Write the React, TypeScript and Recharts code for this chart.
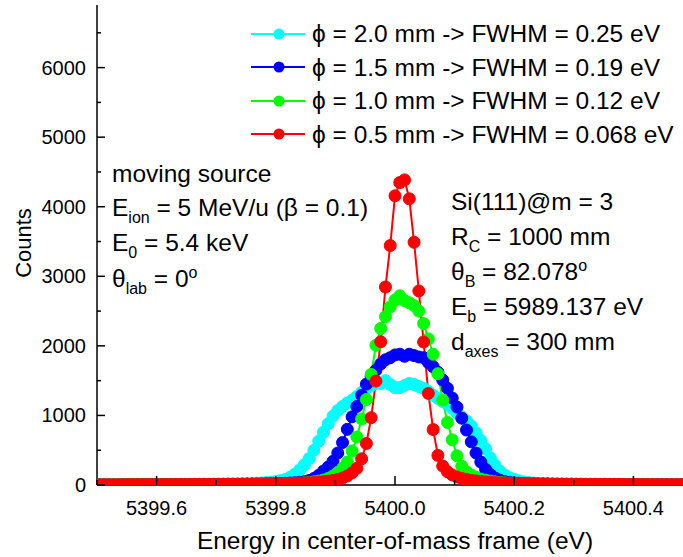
import React from "react";
import { LineChart, Line, XAxis, YAxis, Legend } from "recharts";

const FONT = "'Liberation Sans', Arial, Helvetica, sans-serif";

// energy grid (eV), 125 channels
const ENERGY = [
  5399.504, 5399.512, 5399.52, 5399.528, 5399.536, 5399.544, 5399.552, 5399.56, 5399.568, 5399.576,
  5399.584, 5399.592, 5399.6, 5399.608, 5399.616, 5399.624, 5399.632, 5399.64, 5399.648, 5399.656,
  5399.664, 5399.672, 5399.68, 5399.688, 5399.696, 5399.704, 5399.712, 5399.72, 5399.728, 5399.736,
  5399.744, 5399.752, 5399.76, 5399.768, 5399.776, 5399.784, 5399.792, 5399.8, 5399.808, 5399.816,
  5399.824, 5399.832, 5399.84, 5399.848, 5399.856, 5399.864, 5399.872, 5399.88, 5399.888, 5399.896,
  5399.904, 5399.912, 5399.92, 5399.928, 5399.936, 5399.944, 5399.952, 5399.96, 5399.968, 5399.976,
  5399.984, 5399.992, 5400.0, 5400.008, 5400.016, 5400.024, 5400.032, 5400.04, 5400.048, 5400.056,
  5400.064, 5400.072, 5400.08, 5400.088, 5400.096, 5400.104, 5400.112, 5400.12, 5400.128, 5400.136,
  5400.144, 5400.152, 5400.16, 5400.168, 5400.176, 5400.184, 5400.192, 5400.2, 5400.208, 5400.216,
  5400.224, 5400.232, 5400.24, 5400.248, 5400.256, 5400.264, 5400.272, 5400.28, 5400.288, 5400.296,
  5400.304, 5400.312, 5400.32, 5400.328, 5400.336, 5400.344, 5400.352, 5400.36, 5400.368, 5400.376,
  5400.384, 5400.392, 5400.4, 5400.408, 5400.416, 5400.424, 5400.432, 5400.44, 5400.448, 5400.456,
  5400.464, 5400.472, 5400.48, 5400.488, 5400.496,
];

// counts, slit width 2.0 mm
const PHI_20 = [
  3, 3, 3, 4, 4, 4, 4, 4, 5, 5,
  5, 5, 6, 6, 6, 7, 7, 7, 8, 8,
  9, 9, 10, 10, 11, 12, 13, 14, 15, 16,
  18, 20, 23, 26, 30, 35, 42, 50, 62, 80,
  110, 155, 215, 290, 380, 500, 630, 760, 880, 990,
  1070, 1130, 1180, 1220, 1270, 1330, 1390, 1430, 1460, 1460,
  1500, 1445, 1400, 1400, 1430, 1460, 1445, 1415, 1390, 1345,
  1290, 1245, 1200, 1160, 1100, 1040, 980, 920, 850, 750,
  640, 520, 390, 280, 200, 145, 105, 80, 60, 45,
  35, 28, 23, 20, 17, 15, 13, 12, 11, 10,
  9, 9, 8, 8, 7, 7, 7, 6, 6, 6,
  5, 5, 5, 5, 4, 4, 4, 4, 4, 3,
  3, 3, 3, 3, 3,
];

// counts, slit width 1.5 mm
const PHI_15 = [
  2, 2, 2, 2, 3, 3, 3, 3, 3, 3,
  3, 4, 4, 4, 4, 4, 5, 5, 5, 5,
  6, 6, 6, 7, 7, 8, 8, 9, 9, 10,
  11, 12, 13, 14, 15, 17, 19, 21, 23, 26,
  29, 33, 38, 48, 65, 95, 140, 200, 260, 340,
  460, 610, 800, 980, 1130, 1290, 1450, 1560, 1650, 1740,
  1800, 1830, 1870, 1880, 1850, 1880, 1860, 1840, 1830, 1760,
  1700, 1620, 1510, 1390, 1250, 1120, 960, 790, 620, 460,
  330, 225, 150, 100, 70, 50, 38, 30, 25, 21,
  18, 16, 14, 13, 12, 11, 10, 9, 9, 8,
  8, 7, 7, 6, 6, 6, 5, 5, 5, 5,
  4, 4, 4, 4, 4, 3, 3, 3, 3, 3,
  3, 3, 2, 2, 2,
];

// counts, slit width 1.0 mm
const PHI_10 = [
  3, 3, 3, 3, 3, 3, 4, 4, 4, 4,
  4, 4, 4, 5, 5, 5, 5, 5, 6, 6,
  6, 6, 7, 7, 7, 8, 8, 8, 9, 9,
  10, 10, 11, 12, 13, 14, 15, 16, 18, 20,
  22, 24, 27, 31, 37, 45, 56, 72, 95, 130,
  180, 240, 330, 490, 690, 950, 1230, 1590, 2010, 2250,
  2420, 2560, 2660, 2720, 2650, 2620, 2580, 2500, 2320, 2100,
  1880, 1600, 1220, 900, 650, 420, 270, 190, 145, 110,
  85, 70, 55, 45, 38, 32, 27, 23, 20, 18,
  16, 15, 14, 13, 12, 11, 10, 10, 9, 9,
  8, 8, 7, 7, 7, 6, 6, 6, 5, 5,
  5, 5, 5, 4, 4, 4, 4, 4, 3, 3,
  3, 3, 3, 3, 3,
];

// counts, slit width 0.5 mm
const PHI_05 = [
  5, 5, 5, 5, 5, 6, 6, 6, 6, 6,
  6, 7, 7, 7, 7, 7, 8, 8, 8, 8,
  9, 9, 9, 10, 10, 10, 11, 11, 12, 12,
  13, 13, 14, 15, 16, 17, 18, 19, 21, 22,
  24, 26, 28, 30, 33, 37, 42, 48, 56, 66,
  80, 100, 130, 175, 240, 376, 596, 968, 1494, 2059,
  2846, 3442, 4157, 4347, 4386, 4114, 3489, 2789, 2056, 1316,
  797, 425, 272, 190, 145, 115, 95, 80, 68, 58,
  50, 44, 39, 35, 32, 29, 27, 25, 23, 21,
  20, 19, 18, 17, 16, 15, 14, 14, 13, 13,
  12, 12, 11, 11, 10, 10, 10, 9, 9, 9,
  8, 8, 8, 8, 7, 7, 7, 7, 6, 6,
  6, 6, 6, 5, 5,
];

const SERIES = [
  { key: "phi20", name: "ϕ = 2.0 mm -> FWHM = 0.25 eV", color: "#00FFFF", values: PHI_20 },
  { key: "phi15", name: "ϕ = 1.5 mm -> FWHM = 0.19 eV", color: "#0000FF", values: PHI_15 },
  { key: "phi10", name: "ϕ = 1.0 mm -> FWHM = 0.12 eV", color: "#00FF00", values: PHI_10 },
  { key: "phi05", name: "ϕ = 0.5 mm -> FWHM = 0.068 eV", color: "#FF0000", values: PHI_05 },
];

const X_DOMAIN = [5399.5, 5400.5];
const X_TICKS = [5399.5, 5399.6, 5399.7, 5399.8, 5399.9, 5400.0, 5400.1, 5400.2, 5400.3, 5400.4, 5400.5];
const X_LABELS = [5399.6, 5399.8, 5400.0, 5400.2, 5400.4];
const Y_DOMAIN = [0, 6900];
const Y_TICKS = [0, 500, 1000, 1500, 2000, 2500, 3000, 3500, 4000, 4500, 5000, 5500, 6000, 6500];
const Y_LABELS = [0, 1000, 2000, 3000, 4000, 5000, 6000];

const data = ENERGY.map((energy, i) => {
  const row: Record<string, number> = { energy };
  SERIES.forEach((s) => (row[s.key] = s.values[i]));
  return row;
});

const isLabeled = (v: number) => X_LABELS.some((l) => Math.abs(l - v) < 1e-6);

function BottomTick(props: any) {
  const { x, y, payload } = props;
  const v = payload.value as number;
  const major = isLabeled(v);
  return (
    <g>
      <line x1={x} x2={x} y1={y} y2={y - (major ? 9 : 5)} stroke="#000" strokeWidth={1.5} />
      {major && (
        <text x={x} y={y + 30} textAnchor="middle" fontSize={20} fill="#000" fontFamily={FONT}>
          {v.toFixed(1)}
        </text>
      )}
    </g>
  );
}

function TopTick(props: any) {
  const { x, y, payload } = props;
  const major = isLabeled(payload.value);
  return <line x1={x} x2={x} y1={y} y2={y + (major ? 9 : 5)} stroke="#000" strokeWidth={1.5} />;
}

function LeftTick(props: any) {
  const { x, y, payload } = props;
  const v = payload.value as number;
  const major = Y_LABELS.includes(v);
  return (
    <g>
      <line x1={x} x2={x + (major ? 8 : 4)} y1={y} y2={y} stroke="#000" strokeWidth={1.5} />
      {major && (
        <text x={x - 11} y={y + 7} textAnchor="end" fontSize={20} fill="#000" fontFamily={FONT}>
          {v}
        </text>
      )}
    </g>
  );
}

function LegendBox() {
  return (
    <div style={{ fontFamily: FONT, color: "#000" }}>
      {SERIES.map((s) => (
        <div key={s.key} style={{ display: "flex", alignItems: "center", height: 33.5 }}>
          <svg width={61} height={14} style={{ display: "block" }}>
            <line x1={0} x2={54} y1={7} y2={7} stroke={s.color} strokeWidth={2} />
            <circle cx={28} cy={7} r={5.5} fill={s.color} />
          </svg>
          <span style={{ fontSize: 24.5, lineHeight: "33.5px", whiteSpace: "nowrap" }}>{s.name}</span>
        </div>
      ))}
    </div>
  );
}

const SUB = 16;

export default function App() {
  return (
    <div style={{ position: "fixed", left: 0, top: 0, width: 683, height: 557, overflow: "hidden", background: "#fff" }}>
      <LineChart
        width={700}
        height={557}
        data={data}
        margin={{ top: 5, right: 7, bottom: 22, left: 0 }}
        style={{ fontFamily: FONT }}
      >
        <XAxis
          dataKey="energy"
          type="number"
          domain={X_DOMAIN}
          ticks={X_TICKS}
          interval={0}
          height={50}
          tickSize={0}
          tickMargin={0}
          tickLine={false}
          tick={BottomTick}
          axisLine={{ stroke: "#000", strokeWidth: 1.5 }}
          allowDataOverflow
        />
        <XAxis
          xAxisId="top"
          orientation="top"
          dataKey="energy"
          type="number"
          domain={X_DOMAIN}
          ticks={X_TICKS}
          interval={0}
          height={0}
          tickSize={0}
          tickMargin={0}
          tickLine={false}
          tick={TopTick}
          axisLine={{ stroke: "#000", strokeWidth: 1.5 }}
          allowDataOverflow
        />
        <YAxis
          type="number"
          domain={Y_DOMAIN}
          ticks={Y_TICKS}
          interval={0}
          width={97}
          tickSize={0}
          tickMargin={0}
          tickLine={false}
          tick={LeftTick}
          axisLine={{ stroke: "#000", strokeWidth: 1.5 }}
          allowDataOverflow
        />
        <Legend
          layout="vertical"
          align="center"
          verticalAlign="middle"
          wrapperStyle={{ position: "absolute", left: 251, top: 17, width: 430 }}
          content={() => <LegendBox />}
        />
        {SERIES.map((s) => (
          <Line
            key={s.key}
            type="linear"
            dataKey={s.key}
            name={s.name}
            stroke={s.color}
            strokeWidth={2}
            dot={{ r: 6, fill: s.color, stroke: s.color, strokeWidth: 1 }}
            activeDot={false}
            isAnimationActive={false}
          />
        ))}
      </LineChart>
      <svg
        width={683}
        height={557}
        style={{ position: "absolute", left: 0, top: 0, pointerEvents: "none" }}
        fontFamily={FONT}
        fill="#000"
      >
        <g fontSize={24.5}>
          <text x={112} y={182}>moving source</text>
          <text x={112} y={216}>
            E<tspan dy={7} fontSize={SUB}>ion</tspan>
            <tspan dy={-7}> = 5 MeV/u (β = 0.1)</tspan>
          </text>
          <text x={112} y={251}>
            E<tspan dy={7} fontSize={SUB}>0</tspan>
            <tspan dy={-7}> = 5.4 keV</tspan>
          </text>
          <text x={112} y={287}>
            θ<tspan dy={7} fontSize={SUB}>lab</tspan>
            <tspan dy={-7}> = 0</tspan>
            <tspan dy={-9} fontSize={SUB}>o</tspan>
          </text>

          <text x={451} y={210}>Si(111)@m = 3</text>
          <text x={451} y={245}>
            R<tspan dy={7} fontSize={SUB}>C</tspan>
            <tspan dy={-7}> = 1000 mm</tspan>
          </text>
          <text x={451} y={280}>
            θ<tspan dy={7} fontSize={SUB}>B</tspan>
            <tspan dy={-7}> = 82.078</tspan>
            <tspan dy={-9} fontSize={SUB}>o</tspan>
          </text>
          <text x={451} y={315}>
            E<tspan dy={7} fontSize={SUB}>b</tspan>
            <tspan dy={-7}> = 5989.137 eV</tspan>
          </text>
          <text x={451} y={350}>
            d<tspan dy={7} fontSize={SUB}>axes</tspan>
            <tspan dy={-7}> = 300 mm</tspan>
          </text>

          <text x={395} y={549} textAnchor="middle">Energy in center-of-mass frame (eV)</text>
        </g>
        <text transform="translate(31,243) rotate(-90)" textAnchor="middle" fontSize={22}>
          Counts
        </text>
      </svg>
    </div>
  );
}
